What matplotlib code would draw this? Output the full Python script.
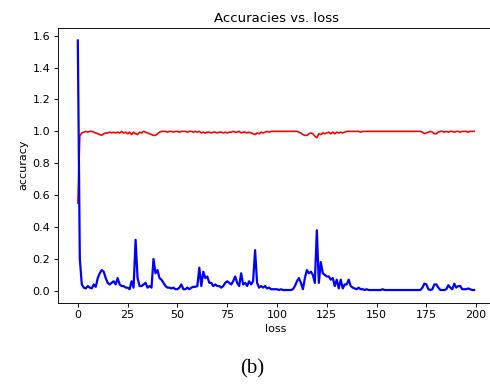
import matplotlib
matplotlib.use("Agg")
import matplotlib.pyplot as plt
import numpy as np

epochs = list(range(200))

accuracy = [
    0.55, 0.97, 0.99, 0.995, 1.0, 0.995, 1.0, 1.0, 0.995, 0.99,
    0.985, 0.98, 0.975, 0.985, 0.99, 0.99, 0.995, 0.99, 0.995, 0.99,
    0.995, 0.99, 1.0, 0.99, 0.995, 0.985, 0.995, 0.98, 0.995, 0.985,
    0.98, 0.995, 0.99, 1.0, 0.995, 0.99, 0.985, 0.98, 0.975, 0.975,
    0.985, 0.995, 1.0, 1.0, 1.0, 0.995, 1.0, 1.0, 0.995, 1.0,
    1.0, 0.995, 1.0, 1.0, 1.0, 0.995, 1.0, 1.0, 0.995, 1.0,
    0.995, 1.0, 0.99, 0.995, 0.99, 0.995, 0.995, 0.99, 0.995, 0.995,
    0.99, 0.995, 0.995, 0.99, 0.995, 0.99, 0.995, 0.995, 1.0, 0.995,
    0.995, 1.0, 0.99, 0.995, 0.995, 0.99, 0.995, 0.99, 0.985, 0.98,
    0.99, 0.985, 0.995, 0.99, 0.995, 1.0, 0.995, 1.0, 1.0, 1.0,
    1.0, 1.0, 1.0, 1.0, 1.0, 1.0, 1.0, 1.0, 1.0, 1.0,
    1.0, 0.995, 0.99, 0.98, 0.975, 0.975, 0.985, 0.99, 0.985, 0.97,
    0.96, 0.985, 0.98, 0.99, 0.985, 0.99, 0.995, 0.985, 0.995, 0.985,
    0.995, 0.99, 0.995, 0.99, 0.995, 1.0, 1.0, 1.0, 1.0, 1.0,
    1.0, 1.0, 0.995, 1.0, 1.0, 1.0, 1.0, 1.0, 1.0, 1.0,
    1.0, 1.0, 1.0, 1.0, 1.0, 1.0, 1.0, 1.0, 1.0, 1.0,
    1.0, 1.0, 1.0, 1.0, 1.0, 1.0, 1.0, 1.0, 1.0, 1.0,
    1.0, 1.0, 1.0, 0.995, 0.985, 0.99, 0.995, 1.0, 0.995, 0.985,
    0.985, 0.995, 1.0, 1.0, 0.995, 1.0, 0.995, 1.0, 1.0, 0.995,
    1.0, 1.0, 0.995, 1.0, 1.0, 1.0, 0.995, 1.0, 1.0, 1.0,
]

loss = [
    1.57, 0.20, 0.04, 0.02, 0.015, 0.03, 0.02, 0.015, 0.04, 0.025,
    0.08, 0.11, 0.13, 0.12, 0.08, 0.05, 0.04, 0.05, 0.06, 0.04,
    0.08, 0.04, 0.03, 0.03, 0.02, 0.02, 0.01, 0.06, 0.02, 0.32,
    0.08, 0.03, 0.03, 0.04, 0.05, 0.02, 0.03, 0.02, 0.20, 0.11,
    0.13, 0.08, 0.07, 0.05, 0.03, 0.02, 0.02, 0.015, 0.02, 0.01,
    0.01, 0.02, 0.04, 0.01, 0.01, 0.02, 0.01, 0.02, 0.025, 0.025,
    0.03, 0.145, 0.03, 0.12, 0.08, 0.09, 0.05, 0.05, 0.03, 0.04,
    0.03, 0.03, 0.02, 0.03, 0.05, 0.06, 0.05, 0.04, 0.06, 0.09,
    0.05, 0.03, 0.11, 0.04, 0.05, 0.03, 0.06, 0.04, 0.06, 0.255,
    0.05, 0.02, 0.03, 0.02, 0.03, 0.015, 0.02, 0.01, 0.01, 0.01,
    0.01, 0.005, 0.01, 0.005, 0.005, 0.005, 0.005, 0.005, 0.01, 0.03,
    0.06, 0.08, 0.05, 0.01, 0.08, 0.13, 0.11, 0.12, 0.10, 0.05,
    0.38, 0.05, 0.18, 0.11, 0.10, 0.09, 0.09, 0.07, 0.08, 0.03,
    0.07, 0.015, 0.07, 0.015, 0.04, 0.04, 0.07, 0.03, 0.02, 0.015,
    0.01, 0.02, 0.01, 0.01, 0.005, 0.01, 0.005, 0.005, 0.005, 0.005,
    0.005, 0.005, 0.005, 0.01, 0.005, 0.005, 0.005, 0.005, 0.005, 0.005,
    0.005, 0.005, 0.005, 0.005, 0.005, 0.005, 0.005, 0.005, 0.005, 0.005,
    0.005, 0.005, 0.005, 0.02, 0.045, 0.04, 0.01, 0.005, 0.01, 0.04,
    0.04, 0.02, 0.005, 0.005, 0.005, 0.01, 0.035, 0.02, 0.01, 0.045,
    0.02, 0.03, 0.03, 0.01, 0.01, 0.01, 0.015, 0.01, 0.005, 0.005,
]

title = "Accuracies vs. loss"
xlabel = "loss"
ylabel = "accuracy"
caption = "(b)"

fig = plt.figure(figsize=(4.9, 3.86), dpi=100)
ax = fig.add_axes([58/490, (386-302.5)/386, 436/490, 274.5/386])
ax.plot(epochs, accuracy, color="red", lw=1.2)
ax.plot(epochs, loss, color="blue", lw=1.6)
ax.set_xticks([0, 25, 50, 75, 100, 125, 150, 175, 200])
ax.set_yticks([0.0, 0.2, 0.4, 0.6, 0.8, 1.0, 1.2, 1.4, 1.6])
ax.set_title(title, fontsize=9.5, pad=4.5)
ax.set_xlabel(xlabel, fontsize=8, labelpad=2.5)
ax.set_ylabel(ylabel, fontsize=8, labelpad=3)
ax.tick_params(labelsize=8, length=2.8, width=0.65, pad=2.8)
for s in ax.spines.values():
    s.set_linewidth(0.65)
fig.text(252/490, 1 - 369/386, caption, family="Liberation Serif", fontsize=15,
         ha="center", va="center")
fig.savefig("out.png", dpi=100)
